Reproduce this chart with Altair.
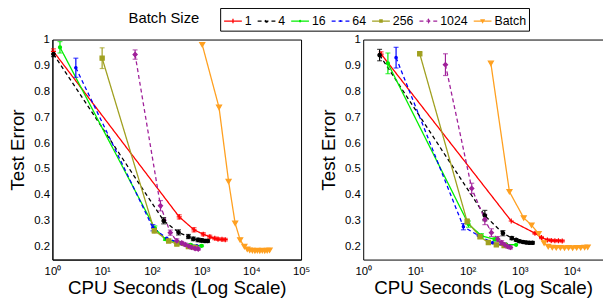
import altair as alt
import pandas as pd

SERIES = ["1", "4", "16", "64", "256", "1024", "Batch"]
COLORS = ["#ff0000", "#000000", "#00ee00", "#0000ff", "#a0a020", "#a0209a", "#ffa020"]

# ---------------- left panel ----------------
L1_T = [1.05, 355, 705, 1080, 1465, 1840, 2140, 2570, 2990]
L1_E = [0.954, 0.315, 0.265, 0.248, 0.238, 0.232, 0.229, 0.228, 0.227]
L1_D = [0.01, 0.008, 0.008, 0.006, 0.006, 0.005, 0.005, 0.005, 0.005]

L4_T = [1.05, 173, 344, 543, 682, 850, 1000, 1165, 1330]
L4_E = [0.944, 0.300, 0.255, 0.239, 0.230, 0.226, 0.224, 0.222, 0.222]
L4_D = [0.01, 0.012, 0.01, 0.008, 0.007, 0.007, 0.007, 0.006, 0.006]

L16_T = [1.42, 115, 187, 344, 600, 1000]
L16_E = [0.97, 0.27, 0.229, 0.215, 0.207, 0.203]
L16_D = [0.022, 0.01, 0.005, 0.004, 0.003, 0.003]

L64_T = [2.96, 105, 200, 400, 800]
L64_E = [0.891, 0.273, 0.232, 0.212, 0.203]
L64_D = [0.037, 0.012, 0.0, 0.0, 0.0]

L256_T = [10, 112, 218, 318, 543, 740]
L256_E = [0.928, 0.262, 0.222, 0.21, 0.2, 0.197]
L256_D = [0.04, 0.01, 0.005, 0.005, 0.004, 0.004]

L1024_T = [46, 149, 235, 318, 400, 467, 550, 630, 740, 855]
L1024_E = [0.942, 0.358, 0.254, 0.222, 0.214, 0.208, 0.202, 0.197, 0.193, 0.191]
L1024_D = [0.018, 0.02, 0.01, 0.008, 0.006, 0.006, 0.006, 0.006, 0.005, 0.005]

LB_T = [1030, 2240, 3490, 4730, 5960, 7250, 8300, 9300, 10500, 11800, 13200, 14800,
        16600, 18600, 20800, 23300]
LB_E = [0.98, 0.738, 0.452, 0.29, 0.226, 0.2, 0.19, 0.186, 0.185, 0.184, 0.185, 0.184,
        0.185, 0.184, 0.185, 0.186]
LB_D = [0.0] * 16

# ---------------- right panel ----------------
R1_T = [2.2, 685, 1950, 2600, 3380, 4000, 4700, 5500, 6500]
R1_E = [0.944, 0.299, 0.252, 0.235, 0.226, 0.224, 0.223, 0.223, 0.222]
R1_D = [0.008, 0.0, 0.004, 0.004, 0.004, 0.004, 0.004, 0.004, 0.004]

R4_T = [2.06, 214, 475, 703, 850, 980, 1150, 1320, 1520, 1755]
R4_E = [0.94, 0.32, 0.252, 0.233, 0.226, 0.221, 0.218, 0.216, 0.215, 0.215]
R4_D = [0.022, 0.02, 0.01, 0.006, 0.005, 0.005, 0.005, 0.005, 0.005, 0.005]

R16_T = [2.97, 104, 185, 331, 550, 850]
R16_E = [0.908, 0.287, 0.242, 0.228, 0.208, 0.207]
R16_D = [0.04, 0.012, 0.008, 0.006, 0.0, 0.0]

R64_T = [4.26, 83, 160, 300, 630]
R64_E = [0.93, 0.277, 0.243, 0.215, 0.2]
R64_D = [0.04, 0.012, 0.0, 0.0, 0.0]

R256_T = [12.1, 98, 173, 250, 355, 500]
R256_E = [0.945, 0.297, 0.238, 0.216, 0.207, 0.204]
R256_D = [0.005, 0.01, 0.005, 0.005, 0.0, 0.0]

R1024_T = [37.6, 120, 214, 286, 380, 450, 512, 580, 662]
R1024_E = [0.903, 0.425, 0.305, 0.254, 0.229, 0.215, 0.207, 0.201, 0.197]
R1024_D = [0.042, 0.02, 0.02, 0.015, 0.01, 0.008, 0.008, 0.006, 0.006]

RB_T = [279, 633, 1190, 1680, 2300, 2920, 3500, 4200, 5000, 6000, 7200, 8600, 10300,
        12300, 14700, 17500, 20000]
RB_E = [0.908, 0.412, 0.311, 0.283, 0.25, 0.214, 0.2, 0.197, 0.196, 0.196, 0.195, 0.196,
        0.195, 0.196, 0.196, 0.197, 0.198]
RB_D = [0.0] * 17

Y_TICKS = [0.2, 0.3, 0.4, 0.5, 0.6, 0.7, 0.8, 0.9, 1.0]
X_TICKS_L = [1, 10, 100, 1000, 10000, 100000]
X_TICKS_R = [1, 10, 100, 1000, 10000]

LEFT = [(L1_T, L1_E, L1_D), (L4_T, L4_E, L4_D), (L16_T, L16_E, L16_D), (L64_T, L64_E, L64_D),
        (L256_T, L256_E, L256_D), (L1024_T, L1024_E, L1024_D), (LB_T, LB_E, LB_D)]
RIGHT = [(R1_T, R1_E, R1_D), (R4_T, R4_E, R4_D), (R16_T, R16_E, R16_D), (R64_T, R64_E, R64_D),
         (R256_T, R256_E, R256_D), (R1024_T, R1024_E, R1024_D), (RB_T, RB_E, RB_D)]


def table(panel):
    rows = []
    for s, (ts, es, ds) in zip(SERIES, panel):
        for t, e, d in zip(ts, es, ds):
            rows.append({"series": s, "t": t, "e": e, "lo": e - d, "hi": e + d, "d": d})
    return pd.DataFrame(rows)


# styles
DASHES = [[1, 0], [4, 3], [1, 0], [4, 3], [1, 0], [4, 3], [1, 0]]
PLUS = "M-1,0H1M0,-1V1"
SHAPES = [PLUS, "circle", "circle", "circle", "square", "diamond", "triangle-down"]
FILLS = ["transparent", "#000000", "#00ee00", "#0000ff", "#a0a020", "#a0209a", "#ffa020"]
SIZES = [26, 12, 10, 6, 18, 18, 26]
LEG_SHAPES = [
    "M-1,0H1M0,-0.25V0.25",
    "M-1,0H1M0.12,0A0.12,0.12,0,1,1,-0.12,0A0.12,0.12,0,1,1,0.12,0",
    "M-1,0H1M0.08,0A0.08,0.08,0,1,1,-0.08,0A0.08,0.08,0,1,1,0.08,0",
    "M-1,0H1M0.05,0A0.05,0.05,0,1,1,-0.05,0A0.05,0.05,0,1,1,0.05,0",
    "M-1,0H1M-0.13,-0.13H0.13V0.13H-0.13Z",
    "M-1,0H1M0,-0.18L0.12,0L0,0.18L-0.12,0Z",
    "M-1,0H1M-0.16,-0.12H0.16L0,0.16Z",
]

FONT = "Liberation Sans"
SUP = "['\u2070','\u00b9','\u00b2','\u00b3','\u2074','\u2075']"


def panel(df, xmax, xticks, width, with_legend, boxed):
    xs = alt.Scale(type="log", domain=[1, xmax], nice=False)
    ys = alt.Scale(domain=[0.15, 1.0], nice=False, zero=False)
    xaxis = alt.Axis(values=xticks, labelExpr="'10' + " + SUP + "[round(log(datum.value)/LN10)]",
                     title="CPU Seconds (Log Scale)", ticks=False, labelPadding=6,
                     titlePadding=2, labelFlush=False)
    yaxis = alt.Axis(values=Y_TICKS, labelExpr="datum.value == 1 ? '1' : format(datum.value, '.1f')",
                     title="Test Error", ticks=False, labelPadding=3, titlePadding=6)
    X = alt.X("t:Q", scale=xs, axis=xaxis)
    Y = alt.Y("e:Q", scale=ys, axis=yaxis)
    cscale = alt.Scale(domain=SERIES, range=COLORS)
    dscale = alt.Scale(type="ordinal", domain=SERIES, range=DASHES)
    base = alt.Chart(df)
    lines = base.mark_line(strokeWidth=1.3).encode(
        x=X, y=Y,
        color=alt.Color("series:N", scale=cscale, legend=None),
        strokeDash=alt.StrokeDash("series:N", scale=dscale, legend=None),
        order=alt.Order("t:Q"),
    )
    errs = base.transform_filter("datum.d > 0").mark_errorbar(ticks=True, thickness=1.2).encode(
        x=X if boxed else alt.X("t:Q", scale=xs, axis=None),
        y=alt.Y("lo:Q", scale=ys, axis=yaxis),
        y2="hi:Q",
        color=alt.Color("series:N", scale=cscale, legend=None),
    )
    if boxed:
        xp = X
    else:
        xp = alt.X("t:Q", scale=xs, axis=alt.Axis(orient="top", labels=False, ticks=False,
                                                  title=None, domain=True))
    pts = base.mark_point(strokeWidth=1.2, opacity=1).encode(
        x=xp,
        y=Y,
        shape=alt.Shape("series:N", scale=alt.Scale(domain=SERIES, range=SHAPES), legend=None),
        stroke=alt.Stroke("series:N", scale=cscale, legend=None),
        fill=alt.Fill("series:N", scale=alt.Scale(domain=SERIES, range=FILLS), legend=None),
        size=alt.Size("series:N", scale=alt.Scale(type="ordinal", domain=SERIES, range=SIZES),
                      legend=None),
    )
    layers = [lines, errs, pts]
    if with_legend:
        leg = alt.Legend(title=None, orient="none", legendX=170, legendY=-32, direction="horizontal",
                         strokeColor="black", padding=3, symbolSize=324, symbolStrokeWidth=1.3,
                         labelFontSize=12.5, labelFont=FONT, labelOffset=2, columnPadding=3,
                         symbolOpacity=1, fillColor="white", labelColor="black")
        legl = base.transform_filter("false").mark_point(strokeWidth=1.3, size=324, filled=False).encode(
            x=X, y=Y,
            shape=alt.Shape("series:N", scale=alt.Scale(domain=SERIES, range=LEG_SHAPES), legend=leg),
            color=alt.Color("series:N", scale=cscale, legend=leg),
            strokeDash=alt.StrokeDash("series:N", scale=dscale, legend=leg),
        )
        ttl = alt.Chart(pd.DataFrame({"a": [0]})).mark_text(
            fontSize=15, font=FONT, color="black", align="center", baseline="middle"
        ).encode(x=alt.value(113), y=alt.value(-22), text=alt.value("Batch Size"))
        layers += [legl, ttl]
    ch = alt.layer(*layers)
    if with_legend:
        ch = ch.resolve_scale(shape="independent", color="independent", strokeDash="independent")
    if boxed:
        ch = ch.properties(width=width, height=223, view=alt.ViewBackground(stroke="black", strokeWidth=1))
    else:
        ch = ch.resolve_axis(x="independent").properties(width=width, height=223)
    return ch


left = panel(table(LEFT), 100000, X_TICKS_L, 252, True, True)
right = panel(table(RIGHT), 10 ** 4.594, X_TICKS_R, 243, False, False)

chart = alt.hconcat(left, right, spacing=63, bounds="flush").resolve_scale(
    shape="independent", fill="independent", stroke="independent", color="independent",
    strokeDash="independent", size="independent"
).properties(padding={"left": 0, "top": -3, "right": 0, "bottom": 0}).configure_view(
    stroke=None
).configure_axis(
    grid=False, domainColor="black", domainWidth=1, labelColor="black", titleColor="black",
    labelFont=FONT, titleFont=FONT, labelFontSize=11.5, titleFontSize=19, titleFontWeight="normal"
)

chart.save("out.html", embed_options={"renderer": "svg", "actions": False})
